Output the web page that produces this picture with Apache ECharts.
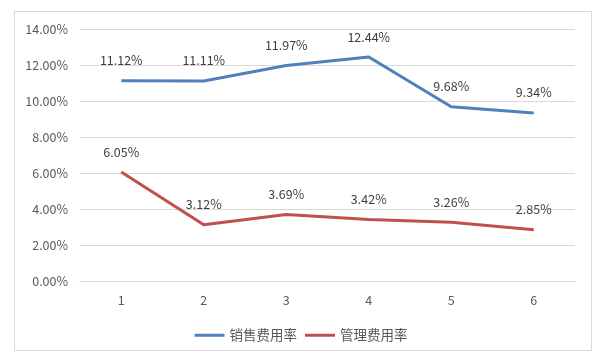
<!DOCTYPE html>
<html><head><meta charset="utf-8">
<script src="https://cdn.jsdelivr.net/npm/echarts@6/dist/echarts.min.js"></script>
<style>html,body{margin:0;padding:0;background:#fff}#c{width:602px;height:360px;position:relative}
#frame{position:absolute;left:14px;top:11px;width:578px;height:340px;border:1px solid #d9d9d9;box-sizing:border-box;pointer-events:none}</style>
</head><body><div id="c"></div><div id="frame"></div>
<script>
const categories = ['1','2','3','4','5','6'];
const salesRate = [11.12, 11.11, 11.97, 12.44, 9.68, 9.34];
const adminRate = [6.05, 3.12, 3.69, 3.42, 3.26, 2.85];
const seriesNames = ['销售费用率','管理费用率'];
const font = '"Noto Sans CJK SC", "Liberation Sans", sans-serif';
const chart = echarts.init(document.getElementById('c'), null, {renderer:'canvas'});
const lbl = {show:true, position:'top', distance:14, color:'#404040', fontSize:12.5, fontFamily:font,
  formatter: p => p.value.toFixed(2) + '%'};
chart.setOption({
  animation:false,
  grid:{left:80, right:27, top:29, bottom:79},
  legend:{bottom:13, left:'center', itemWidth:30, itemHeight:3, itemGap:8,
    icon:'rect', textStyle:{color:'#595959', fontSize:13.5, fontFamily:font}, data:seriesNames},
  xAxis:{type:'category', data:categories, boundaryGap:true,
    axisLine:{show:true, lineStyle:{color:'#d9d9d9'}}, axisTick:{show:false},
    axisLabel:{color:'#595959', fontSize:12.5, fontFamily:font, margin:13}},
  yAxis:{type:'value', min:0, max:14, interval:2,
    axisLine:{show:false}, axisTick:{show:false},
    splitLine:{lineStyle:{color:'#d9d9d9'}},
    axisLabel:{color:'#595959', fontSize:12.5, fontFamily:font, margin:12, formatter: v => v.toFixed(2)+'%'}},
  series:[
    {name:seriesNames[0], type:'line', data:salesRate, symbol:'circle', symbolSize:0.1, lineStyle:{color:'#4F81BD', width:3}, itemStyle:{color:'#4F81BD'}, label:lbl},
    {name:seriesNames[1], type:'line', data:adminRate, symbol:'circle', symbolSize:0.1, lineStyle:{color:'#C0504D', width:3}, itemStyle:{color:'#C0504D'}, label:lbl}
  ]
});
</script></body></html>
